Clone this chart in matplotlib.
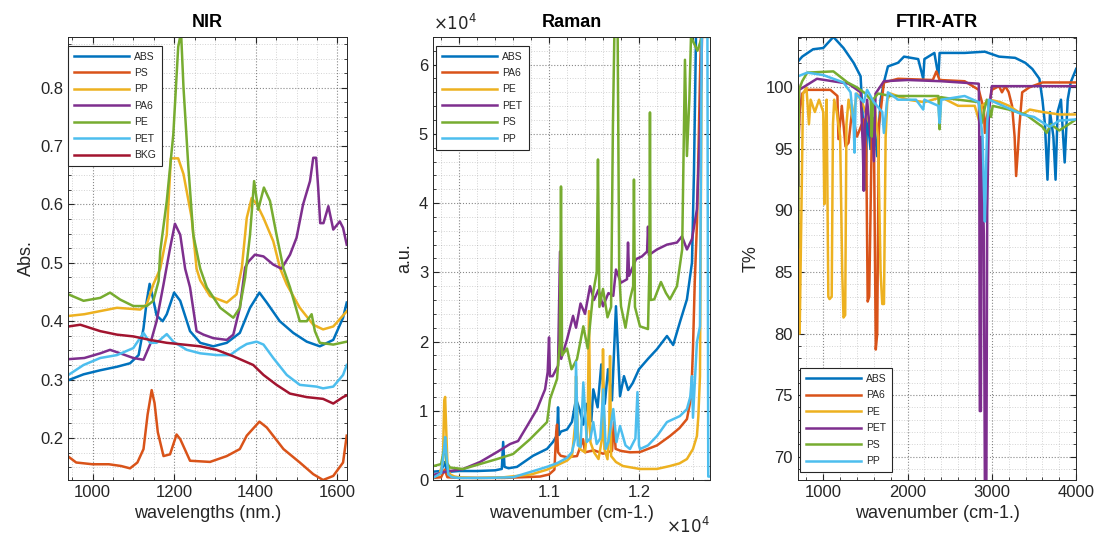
import matplotlib.pyplot as plt
from matplotlib.ticker import MultipleLocator

# MATLAB default line colours
colors = ['#0072BD', '#D95319', '#EDB120', '#7E2F8E', '#77AC30', '#4DBEEE', '#A2142F']

# ---------------- NIR (wavelength nm, absorbance) ----------------
nir_names = ['ABS', 'PS', 'PP', 'PA6', 'PE', 'PET', 'BKG']
nir_abs = [(941, 0.299), (978, 0.309), (1019, 0.316), (1060, 0.322), (1092, 0.328), (1113, 0.342),
           (1125, 0.388), (1133, 0.435), (1140, 0.464), (1148, 0.44), (1157, 0.41), (1172, 0.40),
           (1182, 0.412), (1200, 0.449), (1215, 0.435), (1239, 0.383), (1264, 0.363), (1296, 0.357),
           (1329, 0.363), (1361, 0.38), (1386, 0.423), (1409, 0.449), (1427, 0.432), (1459, 0.40),
           (1492, 0.38), (1525, 0.365), (1557, 0.357), (1590, 0.368), (1614, 0.406), (1623, 0.432)]
nir_ps = [(941, 0.168), (960, 0.158), (1000, 0.155), (1040, 0.155), (1070, 0.152), (1092, 0.148),
          (1110, 0.158), (1125, 0.181), (1135, 0.24), (1145, 0.282), (1152, 0.26), (1160, 0.21),
          (1174, 0.169), (1190, 0.172), (1206, 0.206), (1215, 0.198), (1239, 0.161), (1288, 0.159),
          (1329, 0.169), (1361, 0.181), (1378, 0.204), (1409, 0.228), (1427, 0.218), (1468, 0.181),
          (1508, 0.158), (1541, 0.138), (1565, 0.128), (1590, 0.135), (1614, 0.158), (1623, 0.204)]
nir_pp = [(941, 0.409), (980, 0.412), (1060, 0.423), (1117, 0.42), (1133, 0.429), (1149, 0.463),
          (1166, 0.49), (1182, 0.548), (1192, 0.679), (1210, 0.679), (1223, 0.652), (1243, 0.577),
          (1255, 0.49), (1264, 0.47), (1288, 0.443), (1329, 0.432), (1353, 0.446), (1366, 0.492),
          (1378, 0.577), (1390, 0.611), (1403, 0.60), (1419, 0.577), (1443, 0.537), (1460, 0.49),
          (1476, 0.463), (1508, 0.423), (1541, 0.394), (1565, 0.386), (1590, 0.391), (1623, 0.417)]
nir_pa6 = [(941, 0.335), (980, 0.337), (1019, 0.345), (1043, 0.351), (1068, 0.345), (1100, 0.337),
           (1125, 0.334), (1141, 0.36), (1157, 0.40), (1174, 0.463), (1190, 0.525), (1202, 0.567),
           (1215, 0.548), (1227, 0.49), (1239, 0.458), (1255, 0.383), (1272, 0.377), (1296, 0.371),
           (1329, 0.368), (1345, 0.377), (1361, 0.423), (1374, 0.492), (1382, 0.502), (1398, 0.514),
           (1419, 0.511), (1443, 0.497), (1463, 0.49), (1484, 0.514), (1500, 0.543), (1516, 0.60),
           (1533, 0.64), (1541, 0.68), (1548, 0.68), (1553, 0.629), (1558, 0.568), (1566, 0.568),
           (1578, 0.597), (1590, 0.557), (1606, 0.571), (1614, 0.56), (1623, 0.531)]
nir_pe = [(941, 0.446), (978, 0.435), (1019, 0.44), (1043, 0.449), (1068, 0.437), (1100, 0.426),
          (1133, 0.426), (1149, 0.435), (1162, 0.469), (1166, 0.52), (1182, 0.606), (1198, 0.72),
          (1210, 0.87), (1217, 0.895), (1223, 0.80), (1235, 0.663), (1247, 0.548), (1264, 0.49),
          (1280, 0.458), (1313, 0.423), (1345, 0.406), (1361, 0.423), (1374, 0.475), (1386, 0.548),
          (1396, 0.64), (1406, 0.591), (1420, 0.629), (1435, 0.606), (1451, 0.548), (1468, 0.49),
          (1484, 0.458), (1508, 0.40), (1525, 0.40), (1537, 0.412), (1545, 0.383), (1557, 0.363),
          (1590, 0.36), (1623, 0.365)]
nir_pet = [(941, 0.308), (978, 0.325), (1019, 0.337), (1060, 0.342), (1100, 0.354), (1125, 0.38),
           (1141, 0.363), (1157, 0.363), (1182, 0.378), (1198, 0.365), (1231, 0.351), (1264, 0.345),
           (1304, 0.342), (1337, 0.342), (1361, 0.354), (1378, 0.361), (1402, 0.365), (1419, 0.36),
           (1443, 0.337), (1476, 0.308), (1508, 0.291), (1549, 0.288), (1565, 0.285), (1590, 0.288),
           (1614, 0.308), (1623, 0.325)]
nir_bkg = [(941, 0.391), (970, 0.394), (1019, 0.383), (1060, 0.377), (1100, 0.374), (1141, 0.368),
           (1182, 0.363), (1223, 0.36), (1264, 0.357), (1304, 0.351), (1345, 0.34), (1394, 0.325),
           (1419, 0.308), (1451, 0.291), (1484, 0.276), (1525, 0.27), (1565, 0.267), (1590, 0.259),
           (1614, 0.27), (1623, 0.273)]

# ---------------- Raman (wavenumber, a.u.) ----------------
raman_names = ['ABS', 'PA6', 'PE', 'PET', 'PS', 'PP']
raman_abs = [(9710, 1200), (9800, 1300), (9840, 2600), (9860, 1500), (9900, 1200), (10000, 1300),
             (10200, 1300), (10400, 1400), (10475, 1600), (10490, 5500), (10505, 1900), (10550, 1700),
             (10644, 1900), (10822, 3500), (10978, 4500), (11044, 5500), (11090, 6500), (11100, 10500),
             (11110, 6500), (11133, 7000), (11200, 7300), (11255, 8400), (11300, 11700), (11344, 10000),
             (11380, 8000), (11420, 11000), (11470, 8500), (11492, 13100), (11540, 10500), (11581, 16700),
             (11620, 11000), (11656, 16000), (11700, 11500), (11744, 25100), (11789, 12100), (11833, 15000),
             (11880, 13000), (11930, 14000), (12000, 16000), (12100, 17500), (12200, 18900), (12311, 20800),
             (12380, 19500), (12455, 22800), (12533, 26100), (12589, 31400), (12611, 44400), (12625, 56400),
             (12640, 70000), (12790, 70000)]
raman_pa6 = [(9710, 300), (9800, 400), (9840, 1500), (9870, 400), (10000, 300), (10500, 300),
             (10900, 500), (11000, 800), (11060, 1500), (11080, 7000), (11089, 8000), (11100, 4000),
             (11130, 3500), (11200, 3300), (11311, 3460), (11378, 5900), (11400, 4000), (11500, 4300),
             (11600, 3800), (11700, 4200), (11722, 8370), (11740, 4500), (11800, 4200), (11900, 4000),
             (12011, 4040), (12200, 5000), (12344, 6350), (12450, 7500), (12533, 8800), (12580, 12000),
             (12600, 18900), (12620, 28570), (12645, 37200), (12678, 58150), (12700, 70000), (12790, 70000)]
raman_pe = [(9710, 500), (9780, 800), (9820, 2500), (9835, 11500), (9845, 12000), (9855, 8000),
            (9870, 2500), (9900, 800), (9950, 500), (10000, 400), (10200, 300), (10500, 400),
            (10800, 800), (10978, 1500), (11100, 2200), (11200, 2800), (11255, 3460), (11290, 8000),
            (11300, 15000), (11320, 7000), (11344, 4470), (11400, 4000), (11430, 8000), (11444, 24400),
            (11460, 5480), (11500, 4000), (11550, 3030), (11590, 6000), (11600, 18900), (11615, 4500),
            (11650, 3000), (11670, 8000), (11678, 17900), (11690, 3460), (11744, 2600), (11822, 2020),
            (12011, 1590), (12200, 1600), (12344, 2020), (12450, 2400), (12533, 3030), (12600, 4470),
            (12644, 6350), (12660, 9240), (12678, 15000), (12700, 70000), (12790, 70000)]
raman_pet = [(9710, 720), (9850, 1200), (10044, 1590), (10233, 2600), (10422, 4040), (10567, 5200),
             (10656, 5630), (10756, 7800), (10867, 10250), (10956, 13100), (10985, 15600), (11000, 20600),
             (11010, 15000), (11040, 15000), (11100, 16500), (11122, 33000), (11135, 17500), (11200, 20300),
             (11267, 23700), (11300, 22000), (11350, 25500), (11400, 24000), (11456, 28000), (11500, 26000),
             (11550, 27500), (11600, 25100), (11660, 27000), (11714, 26600), (11744, 30400), (11800, 28500),
             (11867, 29000), (11878, 34300), (11890, 29500), (11967, 31900), (12033, 32300), (12090, 33000),
             (12100, 36600), (12110, 32500), (12200, 33300), (12311, 34000), (12422, 34300), (12478, 35200),
             (12533, 33300), (12589, 34800), (12644, 39100), (12678, 50600), (12711, 70000), (12790, 70000)]
raman_ps = [(9710, 2000), (9800, 2300), (9840, 4900), (9860, 2500), (9900, 1800), (10044, 1590),
            (10422, 3030), (10600, 3750), (10789, 5900), (10978, 8370), (11011, 11700), (11089, 14600),
            (11120, 20000), (11133, 42400), (11145, 18000), (11200, 19000), (11250, 16000), (11311, 17460),
            (11381, 22200), (11430, 19000), (11490, 27000), (11530, 30000), (11544, 46300), (11560, 25000),
            (11600, 27600), (11650, 23500), (11690, 25000), (11710, 51000), (11733, 70000), (11760, 70000),
            (11780, 30000), (11800, 25100), (11850, 22000), (11900, 26100), (11935, 28000), (11944, 43400),
            (11955, 25000), (12011, 22200), (12100, 21800), (12115, 30000), (12122, 53100), (12130, 26000),
            (12170, 26100), (12244, 28600), (12300, 27000), (12344, 26100), (12422, 28000), (12480, 33300),
            (12511, 60700), (12533, 46800), (12560, 55000), (12578, 64000), (12650, 62000), (12700, 64000),
            (12790, 64000)]
raman_pp = [(9710, 300), (9800, 1000), (9830, 4000), (9845, 6200), (9860, 3500), (9880, 800),
            (9920, 400), (10000, 300), (10300, 300), (10600, 400), (10900, 1590), (11000, 2000),
            (11100, 2500), (11200, 3200), (11255, 4040), (11290, 6000), (11300, 17000), (11320, 5000),
            (11350, 4800), (11381, 14100), (11420, 5500), (11460, 6000), (11492, 8370), (11530, 5200),
            (11570, 6000), (11603, 13100), (11630, 4500), (11660, 5500), (11714, 10250), (11750, 5480),
            (11789, 7800), (11850, 5000), (11900, 4470), (11960, 6000), (11983, 12700), (12000, 5000),
            (12011, 4470), (12100, 5000), (12200, 6350), (12311, 8370), (12455, 9240), (12533, 10250),
            (12570, 12000), (12589, 15000), (12600, 9000), (12644, 19900), (12678, 22200), (12700, 70000),
            (12760, 70000), (12770, 500), (12790, 500)]

# ---------------- FTIR-ATR (wavenumber, T%) ----------------
ftir_names = ['ABS', 'PA6', 'PE', 'PET', 'PS', 'PP']
ftir_abs = [(700, 102.1), (750, 102.5), (880, 103.1), (1000, 103.2), (1120, 104.1), (1240, 103.2),
            (1360, 102.0), (1443, 100.9), (1480, 96), (1503, 91.7), (1520, 98), (1560, 95),
            (1600, 97.5), (1640, 94.4), (1680, 99), (1719, 100.4), (1767, 101.7), (1887, 102.0),
            (1958, 102.5), (2126, 102.3), (2186, 100.7), (2200, 102.3), (2318, 102.8), (2366, 100.9),
            (2380, 102.8), (2500, 102.8), (2677, 102.8), (2917, 102.9), (3085, 102.5), (3276, 102.4),
            (3396, 102.0), (3480, 101.5), (3564, 100.7), (3600, 99.0), (3630, 97), (3660, 92.5),
            (3690, 98), (3730, 96), (3756, 92.5), (3780, 98), (3820, 99), (3864, 93.9), (3900, 99),
            (3935, 100.4), (4000, 101.5)]
ftir_pa6 = [(700, 94.5), (720, 98), (750, 99.5), (810, 99.8), (1084, 99.8), (1168, 99.3), (1180, 95.8),
            (1220, 98.5), (1264, 95.2), (1300, 95.5), (1340, 98), (1400, 96), (1480, 97.4), (1510, 95),
            (1527, 82.6), (1545, 83), (1575, 96), (1600, 97), (1623, 78.7), (1640, 80), (1660, 97),
            (1680, 98), (1719, 100.4), (1887, 100.7), (2300, 100.6), (2342, 101.3), (2380, 100.6),
            (2677, 100.5), (2845, 99.8), (2905, 98.2), (2917, 96.3), (2940, 97.5), (3000, 99.8),
            (3085, 100.1), (3120, 99.6), (3160, 100.1), (3200, 99.6), (3240, 98.5), (3270, 96),
            (3288, 92.8), (3310, 95), (3324, 96.6), (3360, 99.6), (3444, 100.0), (3600, 100.4),
            (4000, 100.4)]
ftir_pe = [(700, 99), (712, 80), (720, 80), (745, 92), (760, 99.5), (800, 100), (830, 97), (850, 99),
           (900, 98), (950, 99), (1000, 98), (1012, 90.5), (1025, 96), (1040, 99), (1060, 83),
           (1075, 82.8), (1100, 83), (1115, 97), (1130, 99), (1160, 98), (1200, 96), (1225, 85),
           (1240, 81.3), (1260, 81.5), (1275, 97), (1300, 99), (1350, 97.5), (1400, 99.5), (1450, 99),
           (1550, 97), (1600, 99), (1650, 96), (1680, 85), (1700, 82.4), (1720, 82.4), (1740, 96),
           (1760, 99), (1800, 99.5), (2000, 99), (2200, 98.8), (2400, 99.2), (2600, 98.5),
           (2797, 98.5), (2857, 97.1), (2880, 98.5), (2977, 99), (3100, 98.8), (3204, 98.5),
           (3360, 97.8), (3450, 98.2), (3600, 98), (3800, 97.8), (4000, 97.8)]
ftir_pet = [(700, 100.2), (706, 92), (714, 99.8), (925, 100.7), (1300, 100.3), (1443, 99.6),
            (1470, 95), (1480, 91.6), (1495, 97), (1520, 99), (1560, 96), (1575, 98.5), (1600, 94),
            (1620, 99.5), (1719, 100.5), (2000, 100.6), (2400, 100.5), (2845, 100.3), (2850, 97),
            (2857, 73.7), (2870, 73.7), (2880, 96), (2905, 88), (2917, 68), (2935, 68), (2945, 90),
            (2965, 98), (3000, 100.1), (3500, 100.1), (4000, 100.1)]
ftir_ps = [(700, 87), (705, 92), (712, 99.8), (750, 100.5), (810, 101.2), (1120, 101.3), (1288, 100.4),
           (1400, 100), (1500, 99.5), (1563, 99), (1575, 96), (1590, 99), (1650, 99.5), (1800, 99.3),
           (2000, 99.3), (2366, 99.3), (2380, 96.6), (2395, 99.2), (2600, 99), (2845, 98.8),
           (2880, 97.1), (2905, 98), (2940, 99), (2990, 97.6), (3010, 98.5), (3200, 98.2),
           (3400, 97.8), (3600, 96.8), (3650, 96.3), (3700, 97), (3800, 96.5), (4000, 97.4)]
ftir_pp = [(700, 100.9), (810, 101.2), (1000, 101), (1240, 100.4), (1324, 99.6), (1360, 97),
           (1371, 94.7), (1385, 99.5), (1480, 98.8), (1520, 99.8), (1600, 98.8), (1700, 98),
           (1719, 96.3), (1767, 99.6), (1887, 99), (2100, 99), (2186, 98.2), (2200, 99), (2366, 98.5),
           (2380, 97.1), (2400, 99), (2677, 99.3), (2845, 98.8), (2890, 96), (2905, 92), (2917, 89.1),
           (2930, 93), (2945, 97.1), (2965, 99), (3100, 98.6), (3360, 97.8), (3500, 97.6),
           (3684, 96.8), (3800, 97.3), (4000, 97.4)]

plt.rcParams['font.family'] = ['Liberation Sans', 'DejaVu Sans']
text_col = '#262626'

fig = plt.figure(figsize=(11.06, 5.43), dpi=100)
ax1 = fig.add_axes([0.0615, 0.116, 0.252, 0.816])
ax2 = fig.add_axes([0.3915, 0.116, 0.2505, 0.816])
ax3 = fig.add_axes([0.7215, 0.116, 0.2515, 0.816])


def draw(ax, series, names):
    for i, (s, n) in enumerate(zip(series, names)):
        xs, ys = zip(*s)
        ax.plot(xs, ys, color=colors[i], lw=1.8, label=n)


def style(ax):
    ax.grid(True, which='major', ls=':', color=text_col, alpha=0.55, lw=0.8)
    ax.grid(True, which='minor', ls=':', color=text_col, alpha=0.2, lw=0.7)
    ax.tick_params(which='both', direction='in', top=True, right=True, labelsize=12,
                   colors=text_col)
    ax.tick_params(which='major', length=4)
    ax.tick_params(which='minor', length=2)
    for sp in ax.spines.values():
        sp.set_color(text_col)
        sp.set_linewidth(0.7)


def legend(ax, loc, anchor):
    leg = ax.legend(loc=loc, bbox_to_anchor=anchor, borderaxespad=0, fontsize=7.5,
                    handlelength=5.3, handletextpad=0.5, labelspacing=0.62, borderpad=0.55,
                    fancybox=False, framealpha=1, edgecolor=text_col)
    leg.get_frame().set_linewidth(0.8)
    for t in leg.get_texts():
        t.set_color(text_col)


# NIR
draw(ax1, [nir_abs, nir_ps, nir_pp, nir_pa6, nir_pe, nir_pet, nir_bkg], nir_names)
ax1.set_xlim(940, 1623)
ax1.set_ylim(0.128, 0.887)
ax1.xaxis.set_major_locator(MultipleLocator(200))
ax1.xaxis.set_minor_locator(MultipleLocator(50))
ax1.yaxis.set_major_locator(MultipleLocator(0.1))
ax1.yaxis.set_minor_locator(MultipleLocator(0.025))
style(ax1)
ax1.set_title('NIR', fontsize=13, fontweight='bold', pad=7)
ax1.set_xlabel('wavelengths (nm.)', fontsize=13, color=text_col)
ax1.set_ylabel('Abs.', fontsize=13, color=text_col)
legend(ax1, 'upper left', (0.0, 0.98))

# Raman
draw(ax2, [raman_abs, raman_pa6, raman_pe, raman_pet, raman_ps, raman_pp], raman_names)
ax2.set_xlim(9710, 12790)
ax2.set_ylim(0, 64000)
ax2.set_xticks([10000, 11000, 12000], labels=['1', '1.1', '1.2'])
ax2.set_yticks(range(0, 60001, 10000), labels=[str(v) for v in range(7)])
ax2.xaxis.set_minor_locator(MultipleLocator(200))
ax2.yaxis.set_minor_locator(MultipleLocator(2000))
style(ax2)
ax2.set_title('Raman', fontsize=13, fontweight='bold', pad=7)
ax2.set_xlabel('wavenumber (cm-1.)', fontsize=13, color=text_col)
ax2.set_ylabel('a.u.', fontsize=13, color=text_col)
ax2.text(0.0, 1.008, r'$\times10^4$', transform=ax2.transAxes, ha='left', va='bottom',
         fontsize=12, color=text_col)
ax2.text(1.0, -0.08, r'$\times10^4$', transform=ax2.transAxes, ha='right', va='top',
         fontsize=12, color=text_col)
legend(ax2, 'upper left', (0.011, 0.98))

# FTIR-ATR
draw(ax3, [ftir_abs, ftir_pa6, ftir_pe, ftir_pet, ftir_ps, ftir_pp], ftir_names)
ax3.set_xlim(700, 4000)
ax3.set_ylim(68.1, 104.1)
ax3.xaxis.set_major_locator(MultipleLocator(1000))
ax3.xaxis.set_minor_locator(MultipleLocator(200))
ax3.yaxis.set_major_locator(MultipleLocator(5))
ax3.yaxis.set_minor_locator(MultipleLocator(1))
style(ax3)
ax3.set_title('FTIR-ATR', fontsize=13, fontweight='bold', pad=7)
ax3.set_xlabel('wavenumber (cm-1.)', fontsize=13, color=text_col)
ax3.set_ylabel('T%', fontsize=13, color=text_col)
legend(ax3, 'lower left', (0.007, 0.018))

fig.savefig('out.png', dpi=100)
